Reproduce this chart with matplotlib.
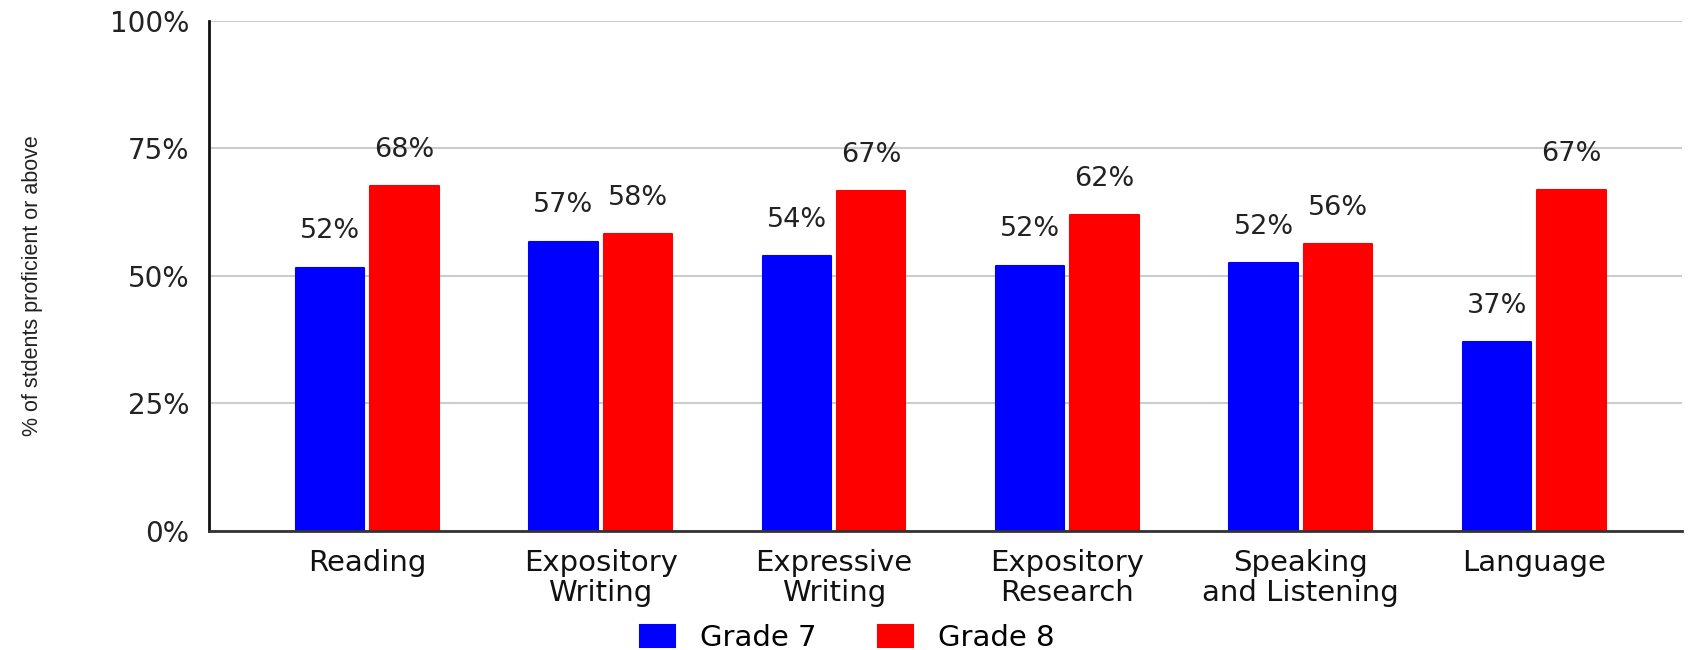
import numpy as np
import matplotlib.pyplot as plt

# Proficiency data
categories = ["Reading", "Expository\nWriting", "Expressive\nWriting",
              "Expository\nResearch", "Speaking\nand Listening", "Language"]
grade7 = [51.6, 56.7, 53.9, 52.0, 52.4, 36.9]
grade8 = [67.6, 58.2, 66.6, 61.9, 56.2, 66.8]
series_names = ["Grade 7", "Grade 8"]
yticks = [0, 25, 50, 75, 100]

plt.rcParams["font.family"] = ["DejaVu Sans"]

fig = plt.figure(figsize=(16.94, 6.5), dpi=100)
ax = fig.add_axes([209 / 1694, 119.5 / 650, 1473 / 1694, 509.6 / 650])

x = np.arange(len(categories))
width = 0.293
gap = 0.026

b7 = ax.bar(x - (width + gap) / 2, grade7, width, color="#0000ff",
            edgecolor="#0000ff", linewidth=1.5, joinstyle="round",
            label=series_names[0], zorder=3)
b8 = ax.bar(x + (width + gap) / 2, grade8, width, color="#ff0000",
            edgecolor="#ff0000", linewidth=1.5, joinstyle="round",
            label=series_names[1], zorder=3)

# value labels above each bar
for bars, vals in ((b7, grade7), (b8, grade8)):
    for rect, v in zip(bars, vals):
        ax.annotate(f"{v:.0f}%", (rect.get_x() + rect.get_width() / 2, v),
                    xytext=(0, 21), textcoords="offset points",
                    ha="center", va="baseline", fontsize=19.5, color="#222222",
                    zorder=4)

ax.set_xlim(-0.678, 5.633)
ax.set_ylim(0, 100)
ax.set_yticks(yticks)
ax.set_yticklabels([f"{t}%" for t in yticks])
ax.set_xticks(x)
ax.set_xticklabels(categories, linespacing=1.1)
ax.tick_params(axis="y", length=0, pad=14, labelsize=20, labelcolor="#222222")
ax.tick_params(axis="x", length=0, pad=13, labelsize=21, labelcolor="#111111")

ax.grid(axis="y", color="#cccccc", linewidth=1.5, zorder=0)
ax.set_axisbelow(True)
for side in ("top", "right"):
    ax.spines[side].set_visible(False)
ax.spines["left"].set_color("#111111")
ax.spines["left"].set_linewidth(2)
ax.spines["bottom"].set_color("#333333")
ax.spines["bottom"].set_linewidth(2)
ax.spines["left"].set_zorder(5)
ax.spines["bottom"].set_zorder(5)

ax.set_ylabel("% of stdents proficient or above", fontsize=15.5,
              family=["Liberation Sans Narrow", "Liberation Sans"], color="#222222")
ax.yaxis.set_label_coords(-0.113, 0.48)

fig.legend(handles=[b7, b8], labels=series_names, loc="center",
           bbox_to_anchor=(0.5, 12 / 650), ncol=2, frameon=False,
           fontsize=21, handlelength=1.2, handleheight=0.75,
           handletextpad=0.86, columnspacing=2.1, borderpad=0)

fig.savefig("out.png", dpi=100)
